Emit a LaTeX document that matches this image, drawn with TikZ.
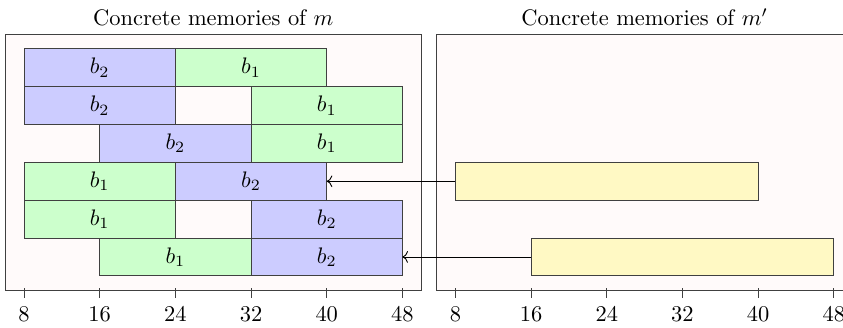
\documentclass[tikz,border=0pt]{standalone}
\usepackage{amsmath}
\usepackage{tikz}
\usetikzlibrary{arrows.meta,positioning}

\definecolor{memback}{RGB}{255,250,250}
\definecolor{absyellow}{RGB}{255,249,196}

\tikzset{
  memframe/.style={draw=black!75, fill=memback, minimum width=6.512cm, minimum height=3.996cm, inner sep=0pt},
  blk/.style={draw=black!75, minimum width=2.368cm, minimum height=0.592cm, inner sep=0pt, outer sep=0pt},
  bone/.style={blk, fill=green!20},
  btwo/.style={blk, fill=blue!20},
  absblk/.style={draw=black!75, fill=absyellow, minimum width=4.736cm, minimum height=0.592cm, inner sep=0pt, outer sep=0pt},
}

\begin{document}
\begin{tikzpicture}[x=0.148cm, y=0.148cm]
      \useasboundingbox (5.463,-3.91) rectangle (94.57,30.66);

      % frames
      \node[memframe] (memL) at (28,13.5) {};
      \node[memframe] (memR) at (73.6,13.5) {};
      \node[above=0pt of memL] (titleL) {Concrete memories of $m$};
      \node[above=0pt of memR] (titleR) {Concrete memories of $m'$};

      % ticks
      \foreach \t in {8,16,...,48} {
        \draw[black!75] (\t,0.2) -- (\t,-0.85) node[below, black] {\t};
        \draw[black!75] (45.6+\t,0.2) -- (45.6+\t,-0.85) node[below, black] {\t};
      }

      % concrete memories of m
      \node[btwo] (r1a) at (16,23.5) {$b_2$};
      \node[bone] (r1b) at (32,23.5) {$b_1$};
      \node[btwo] (r2a) at (16,19.5) {$b_2$};
      \node[bone] (r2b) at (40,19.5) {$b_1$};
      \node[btwo] (r3a) at (24,15.5) {$b_2$};
      \node[bone] (r3b) at (40,15.5) {$b_1$};
      \node[bone] (r4a) at (16,11.5) {$b_1$};
      \node[btwo] (r4b) at (32,11.5) {$b_2$};
      \node[bone] (r5a) at (16,7.5) {$b_1$};
      \node[btwo] (r5b) at (40,7.5) {$b_2$};
      \node[bone] (r6a) at (24,3.5) {$b_1$};
      \node[btwo] (r6b) at (40,3.5) {$b_2$};

      % concrete memories of m'
      \node[absblk] (a1) at (45.6+24,11.5) {};
      \node[absblk] (a2) at (45.6+32,3.5) {};

      \draw[->] (a1.west) -- (r4b.east);
      \draw[->] (a2.west) -- (r6b.east);
    \end{tikzpicture}
\end{document}
